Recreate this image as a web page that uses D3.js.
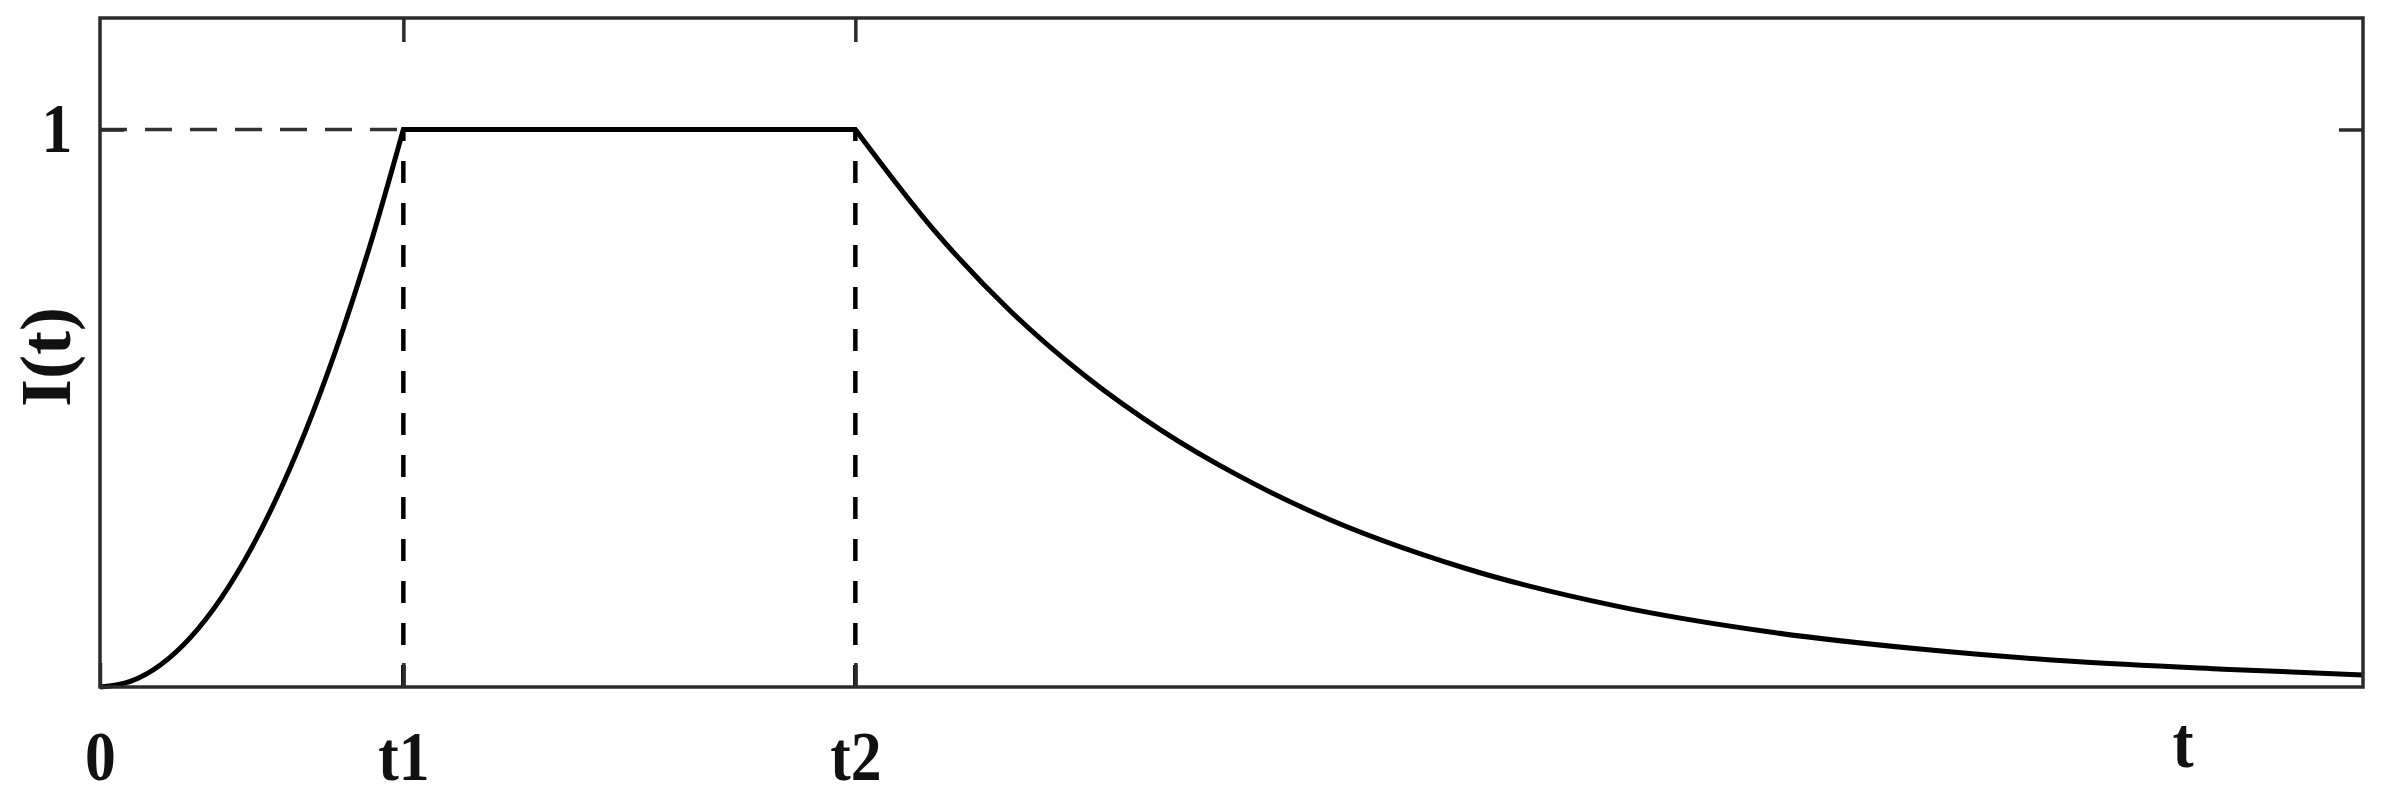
<!DOCTYPE html>
<html>
<head>
<meta charset="utf-8">
<script src="https://cdn.jsdelivr.net/npm/d3@7"></script>
<style>
    html, body {margin: 0; padding: 0; background: #fff;}
    svg {display: block;}
    text {font-family: "Liberation Serif", "Times New Roman", serif; font-weight: bold; fill: #111;}
</style>
</head>
<body>
<svg id="chart" width="2387" height="800"></svg>
<script>
// values (t in units of t1)
var riseT = [0, 0.1, 0.2, 0.3, 0.4, 0.5, 0.6, 0.7, 0.8, 0.9, 1.0];
var riseI = [0, 0.01, 0.04, 0.09, 0.16, 0.25, 0.36, 0.49, 0.64, 0.81, 1.0];
var decayT = [2.49, 2.75, 3.0, 3.25, 3.5, 3.75, 4.0, 4.5, 5.0, 5.5, 6.0, 6.5, 7.0, 7.46];
var decayI = [1.0, 0.819, 0.675, 0.557, 0.46, 0.38, 0.313, 0.213, 0.145, 0.099, 0.068, 0.046, 0.032, 0.0215];
var xTicks = [0, 1, 2.49];
var xTickLabels = ['0', 't1', 't2'];
var yTicks = [1];
var yTickLabels = ['1'];
var xDomain = [0, 7.46];
var yDomain = [0, 1.2];

var margin = {left: 100, right: 24, top: 18, bottom: 113};
var W = 2387, H = 800;
var w = W - margin.left - margin.right;
var h = H - margin.top - margin.bottom;

var svg = d3.select('#chart');
var g = svg.append('g').attr('transform', 'translate(' + margin.left + ',' + margin.top + ')');

var x = d3.scaleLinear().domain(xDomain).range([0, w]);
var y = d3.scaleLinear().domain(yDomain).range([h, 0]);

var axisColor = '#2b2b2b';

// guide lines
g.append('line')
    .attr('x1', x(0)).attr('x2', x(xTicks[1]))
    .attr('y1', y(1)).attr('y2', y(1))
    .attr('stroke', '#333').attr('stroke-width', 3.5)
    .attr('stroke-dasharray', '27,18');

[xTicks[1], xTicks[2]].forEach(function (t) {
    g.append('line')
        .attr('x1', x(t)).attr('x2', x(t))
        .attr('y1', y(0)).attr('y2', y(1))
        .attr('stroke', '#000').attr('stroke-width', 4.5)
        .attr('stroke-dasharray', '22,20');
});

// curve
var line = d3.line()
    .x(function (d) { return x(d[0]); })
    .y(function (d) { return y(d[1]); })
    .curve(d3.curveMonotoneX);

var risePts = riseT.map(function (t, i) { return [t, riseI[i]]; });
var decayPts = decayT.map(function (t, i) { return [t, decayI[i]]; });
var pathStr = line(risePts) + line(decayPts).replace(/^M/, 'L');

g.append('path')
    .attr('d', pathStr)
    .attr('fill', 'none')
    .attr('stroke', '#000')
    .attr('stroke-width', 5)
    .attr('stroke-linejoin', 'miter');

// axes
var xAxis = g.append('g')
    .attr('transform', 'translate(0,' + h + ')')
    .call(d3.axisBottom(x).tickValues(xTicks)
        .tickFormat(function (d, i) { return xTickLabels[i]; })
        .tickSizeInner(-24).tickSizeOuter(0).tickPadding(43));

var xTop = g.append('g')
    .call(d3.axisTop(x).tickValues(xTicks.slice(1))
        .tickFormat('').tickSizeInner(-24).tickSizeOuter(0));

var yAxis = g.append('g')
    .call(d3.axisLeft(y).tickValues(yTicks)
        .tickFormat(function (d, i) { return yTickLabels[i]; })
        .tickSizeInner(-24).tickSizeOuter(0).tickPadding(0));

var yRight = g.append('g')
    .attr('transform', 'translate(' + w + ',0)')
    .call(d3.axisRight(y).tickValues(yTicks)
        .tickFormat('').tickSizeInner(-24).tickSizeOuter(0));

[xAxis, xTop, yAxis, yRight].forEach(function (a) {
    a.select('.domain').remove();
    a.selectAll('.tick line').attr('stroke', axisColor).attr('stroke-width', 3.5);
});

xAxis.selectAll('.tick text')
    .attr('font-size', 70)
    .attr('font-family', null)
    .attr('fill', '#111')
    .attr('transform', 'scale(0.88,1)');

yAxis.selectAll('.tick text')
    .attr('font-size', 70)
    .attr('font-family', null)
    .attr('fill', '#111')
    .attr('text-anchor', 'middle')
    .attr('x', 0)
    .attr('transform', 'translate(-43,0) scale(0.88,1)');

// frame
g.append('rect')
    .attr('x', 0).attr('y', 0)
    .attr('width', w).attr('height', h)
    .attr('fill', 'none')
    .attr('stroke', axisColor)
    .attr('stroke-width', 3.5);

// axis titles
svg.append('text')
    .attr('text-anchor', 'middle')
    .attr('font-size', 72)
    .attr('transform', 'translate(70,357) rotate(-90)')
    .text('I(t)');

svg.append('text')
    .attr('text-anchor', 'middle')
    .attr('font-size', 72)
    .attr('transform', 'translate(2183,767) scale(0.88,1)')
    .text('t');
</script>
</body>
</html>
